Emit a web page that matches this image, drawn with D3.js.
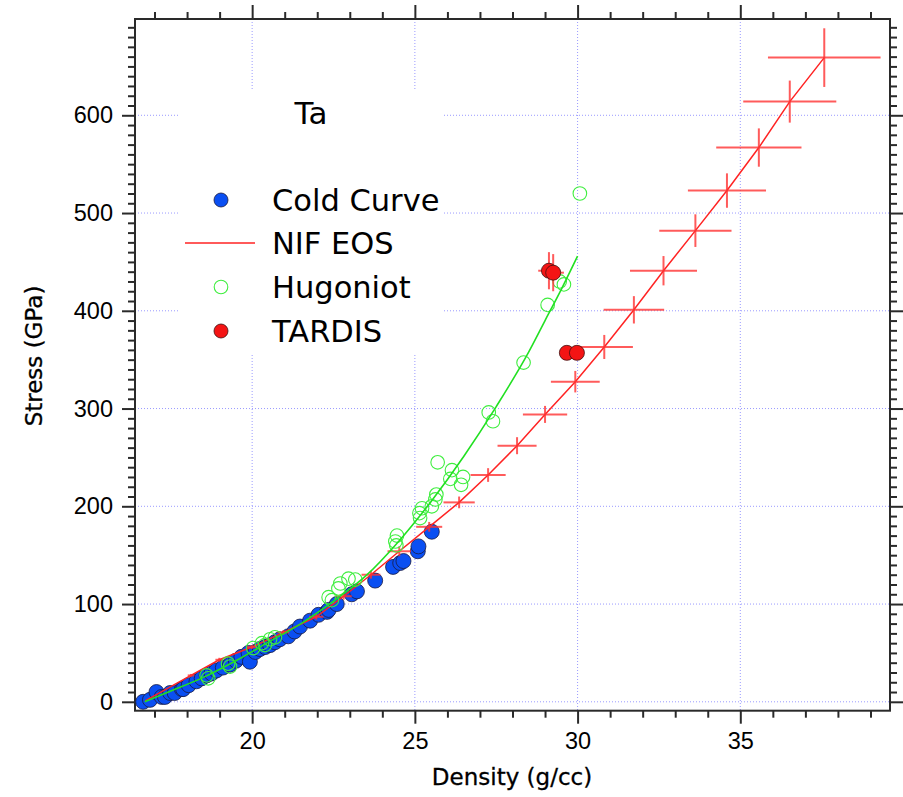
<!DOCTYPE html>
<html>
<head>
<meta charset="utf-8">
<script src="https://cdn.jsdelivr.net/npm/d3@7"></script>
<style>
  html, body { margin: 0; padding: 0; background: #fff; }
  svg { display: block; font-family: "DejaVu Sans", "Liberation Sans", sans-serif; }
</style>
</head>
<body>
<svg id="chart" width="903" height="797"></svg>
<script>
// Tantalum stress vs. density: cold curve, NIF EOS, Hugoniot and TARDIS data

const xMajorTicks = [20, 25, 30, 35];
const yMajorTicks = [0, 100, 200, 300, 400, 500, 600];

// Cold curve points (density g/cc, stress GPa)
const coldDensity = [16.65, 16.86, 17.06, 17.22, 17.32, 17.48, 17.62, 17.84, 17.88, 18.05, 18.29, 18.45, 18.60, 18.75, 18.90, 19.10, 19.32, 19.50, 19.67, 19.89, 19.93, 20.10, 20.24, 20.40, 20.55, 20.70, 20.85, 21.11, 21.30, 21.47, 21.78, 22.04, 22.30, 22.35, 22.60, 23.06, 23.22, 23.78, 24.33, 24.55, 24.65, 25.09, 25.11, 25.52];
const coldStress  = [0, 2, 10, 5, 5, 9, 9, 13, 13, 17, 21, 24, 27, 29, 32, 35, 38, 42, 46, 50, 41, 51, 54, 56, 58, 61, 64, 67, 72, 77, 83, 89, 92, 94, 100, 110, 113, 124, 138, 142, 144, 154, 159, 174];

// NIF EOS (density, stress, density error, stress error)
const nifDensity = [16.71, 18.12, 18.99, 19.99, 20.96, 21.97, 22.81, 23.65, 24.52, 25.44, 26.36, 27.25, 28.14, 29.00, 29.93, 30.82, 31.73, 32.64, 33.62, 34.59, 35.57, 36.52, 37.58];
const nifStress  = [1, 27, 43, 56, 71, 87, 108, 130, 154, 179, 204, 232, 262, 294, 327.5, 363, 401, 441, 482, 523, 567, 614, 659];
const nifDensityErr = [0, 0.10, 0.12, 0.15, 0.18, 0.22, 0.25, 0.29, 0.36, 0.40, 0.48, 0.54, 0.60, 0.68, 0.75, 0.88, 0.93, 1.03, 1.11, 1.20, 1.31, 1.43, 1.73];
const nifStressErr  = [0, 1.5, 2, 2, 2.5, 3, 3.5, 4, 5, 5, 6, 7, 8.7, 8.7, 11, 12.3, 14, 15, 16.7, 17.6, 19.6, 21.5, 30];

// Hugoniot measurements
const hugDensity = [18.60, 18.65, 19.26, 19.32, 20.03, 20.30, 20.39, 20.55, 20.70, 22.35, 22.45, 22.65, 22.71, 22.96, 23.17, 24.40, 24.45, 24.43, 25.14, 25.16, 25.22, 25.52, 25.63, 25.66, 25.70, 26.09, 26.14, 26.42, 26.48, 27.27, 27.40, 28.34, 29.08, 29.45, 29.58, 30.07];
const hugStress  = [27, 24, 39, 36, 55, 60, 58, 64, 66, 107, 104, 116, 121, 126, 125, 164, 170, 160, 193, 188, 198, 200, 207, 212, 245, 228, 237, 222, 230, 296, 287, 347, 406, 430, 427, 520];

// Hugoniot fit curve
const fitDensity = [16.70, 17.5, 18.5, 19.5, 20.5, 21.5, 22.5, 23.5, 24.5, 25.5, 26.5, 27.5, 28.5, 29.0, 29.5, 30.0];
const fitStress  = [0, 11, 25, 42, 61, 80, 103, 129, 164, 205, 251, 302, 358, 390, 422, 456];

// TARDIS points
const tardisDensity = [29.12, 29.25, 29.67, 29.98];
const tardisStress  = [441, 439, 357, 357];
const tardisDensityErr = [0.33, 0.33, 0, 0];
const tardisStressErr  = [19, 19, 0, 0];

const legendItems = ["Cold Curve", "NIF EOS", "Hugoniot", "TARDIS"];

const svg = d3.select("#chart");
const plotLeft = 135, plotRight = 890, plotTop = 19, plotBottom = 710.7;

const x = d3.scaleLinear().domain([16.4, 39.6]).range([plotLeft, plotRight]);
const y = d3.scaleLinear().domain([-9.1, 698.5]).range([plotBottom, plotTop]);

const xMinor = d3.range(17, 40).filter(v => !xMajorTicks.includes(v));
const yMinor = d3.range(10, 700, 10).filter(v => !yMajorTicks.includes(v));

const gridColor = "#9a9aff";
const axisColor = "#2a2a2a";

// Grid
const grid = svg.append("g");
grid.selectAll("line.vx").data(xMajorTicks).join("line")
  .attr("x1", d => x(d)).attr("x2", d => x(d))
  .attr("y1", plotTop).attr("y2", plotBottom)
  .attr("stroke", gridColor).attr("stroke-width", 1).attr("stroke-dasharray", "1,2");
grid.selectAll("line.hy").data(yMajorTicks).join("line")
  .attr("x1", plotLeft).attr("x2", plotRight)
  .attr("y1", d => y(d)).attr("y2", d => y(d))
  .attr("stroke", gridColor).attr("stroke-width", 1).attr("stroke-dasharray", "1,2");

// Legend backing
svg.append("rect").attr("x", 178).attr("y", 89).attr("width", 265).attr("height", 264).attr("fill", "#fff");

// Axes with major and minor ticks
function styleAxis(g) {
  g.select(".domain").remove();
  g.selectAll(".tick line").attr("stroke", axisColor).attr("stroke-width", 2);
  g.selectAll(".tick text").attr("fill", "#000").style("font-size", "23.5px");
}
function addAxis(axis, tx, ty) {
  const g = svg.append("g").attr("transform", `translate(${tx},${ty})`).call(axis);
  styleAxis(g);
  return g;
}
addAxis(d3.axisBottom(x).tickValues(xMajorTicks).tickSize(13).tickPadding(9).tickFormat(d3.format("d")), 0, plotBottom);
addAxis(d3.axisBottom(x).tickValues(xMinor).tickSize(7).tickFormat(""), 0, plotBottom);
addAxis(d3.axisTop(x).tickValues(xMajorTicks).tickSize(14).tickFormat(""), 0, plotTop);
addAxis(d3.axisTop(x).tickValues(xMinor).tickSize(7).tickFormat(""), 0, plotTop);
addAxis(d3.axisLeft(y).tickValues(yMajorTicks).tickSize(13).tickPadding(9).tickFormat(d3.format("d")), plotLeft, 0);
addAxis(d3.axisLeft(y).tickValues(yMinor).tickSize(7).tickFormat(""), plotLeft, 0);
addAxis(d3.axisRight(y).tickValues(yMajorTicks).tickSize(13).tickFormat(""), plotRight, 0);
addAxis(d3.axisRight(y).tickValues(yMinor).tickSize(7).tickFormat(""), plotRight, 0);

// Frame
svg.append("rect").attr("x", plotLeft).attr("y", plotTop)
  .attr("width", plotRight - plotLeft).attr("height", plotBottom - plotTop)
  .attr("fill", "none").attr("stroke", axisColor).attr("stroke-width", 2);

// Axis titles
svg.append("text").attr("x", 512).attr("y", 785).attr("text-anchor", "middle")
  .style("font-size", "23px").attr("fill", "#000").attr("stroke", "#000").attr("stroke-width", 0.3)
  .text("Density (g/cc)");
svg.append("text").attr("transform", `translate(42,356) rotate(-90)`).attr("text-anchor", "middle")
  .style("font-size", "23px").attr("fill", "#000").attr("stroke", "#000").attr("stroke-width", 0.3)
  .text("Stress (GPa)");

const plot = svg.append("g");

const blueFill = "#0a4ff2";
const redFill = "#f41414";
const greenStroke = "#3fee3f";
const nifColor = "#ff2323";
const crossColor = "rgba(255,50,50,0.8)";

// Cold curve markers
plot.selectAll("circle.cold").data(d3.range(coldDensity.length)).join("circle")
  .attr("cx", i => x(coldDensity[i])).attr("cy", i => y(coldStress[i])).attr("r", 7.5)
  .attr("fill", blueFill).attr("stroke", "#1a1a40").attr("stroke-width", 0.8);

// NIF EOS line with error crosses
const nifIdx = d3.range(nifDensity.length);
plot.append("path").datum(nifIdx)
  .attr("d", d3.line().x(i => x(nifDensity[i])).y(i => y(nifStress[i])))
  .attr("fill", "none").attr("stroke", nifColor).attr("stroke-width", 1.5);
plot.selectAll("line.nifx").data(nifIdx.filter(i => nifDensityErr[i] > 0)).join("line")
  .attr("x1", i => x(nifDensity[i] - nifDensityErr[i])).attr("x2", i => x(nifDensity[i] + nifDensityErr[i]))
  .attr("y1", i => y(nifStress[i])).attr("y2", i => y(nifStress[i]))
  .attr("stroke", crossColor).attr("stroke-width", 2);
plot.selectAll("line.nify").data(nifIdx.filter(i => nifStressErr[i] > 0)).join("line")
  .attr("x1", i => x(nifDensity[i])).attr("x2", i => x(nifDensity[i]))
  .attr("y1", i => y(nifStress[i] - nifStressErr[i])).attr("y2", i => y(nifStress[i] + nifStressErr[i]))
  .attr("stroke", crossColor).attr("stroke-width", 2);

// Hugoniot markers
plot.selectAll("circle.hug").data(d3.range(hugDensity.length)).join("circle")
  .attr("cx", i => x(hugDensity[i])).attr("cy", i => y(hugStress[i])).attr("r", 6.8)
  .attr("fill", "none").attr("stroke", greenStroke).attr("stroke-width", 1.1);

// Hugoniot fit
plot.append("path").datum(d3.range(fitDensity.length))
  .attr("d", d3.line().curve(d3.curveMonotoneX).x(i => x(fitDensity[i])).y(i => y(fitStress[i])))
  .attr("fill", "none").attr("stroke", "#22e022").attr("stroke-width", 1.6);

// TARDIS
const tIdx = d3.range(tardisDensity.length);
plot.selectAll("line.tx").data(tIdx.filter(i => tardisDensityErr[i] > 0)).join("line")
  .attr("x1", i => x(tardisDensity[i] - tardisDensityErr[i])).attr("x2", i => x(tardisDensity[i] + tardisDensityErr[i]))
  .attr("y1", i => y(tardisStress[i])).attr("y2", i => y(tardisStress[i]))
  .attr("stroke", crossColor).attr("stroke-width", 2);
plot.selectAll("line.ty").data(tIdx.filter(i => tardisStressErr[i] > 0)).join("line")
  .attr("x1", i => x(tardisDensity[i])).attr("x2", i => x(tardisDensity[i]))
  .attr("y1", i => y(tardisStress[i] - tardisStressErr[i])).attr("y2", i => y(tardisStress[i] + tardisStressErr[i]))
  .attr("stroke", crossColor).attr("stroke-width", 2);
plot.selectAll("circle.tardis").data(tIdx).join("circle")
  .attr("cx", i => x(tardisDensity[i])).attr("cy", i => y(tardisStress[i])).attr("r", 7.5)
  .attr("fill", redFill).attr("stroke", "#401010").attr("stroke-width", 0.8);

// Legend
const legend = svg.append("g");
legend.append("text").attr("x", 311).attr("y", 124).attr("text-anchor", "middle")
  .style("font-size", "31px").attr("fill", "#000").text("Ta");
const rowY = [200, 243, 287, 331];
legendItems.forEach((name, i) => {
  legend.append("text").attr("x", 272).attr("y", rowY[i] + 11)
    .style("font-size", "30.5px").attr("fill", "#000").text(name);
});
legend.append("circle").attr("cx", 221).attr("cy", rowY[0]).attr("r", 7)
  .attr("fill", blueFill).attr("stroke", "#1a1a40").attr("stroke-width", 0.8);
legend.append("line").attr("x1", 185).attr("x2", 255).attr("y1", rowY[1]).attr("y2", rowY[1])
  .attr("stroke", nifColor).attr("stroke-width", 1.5);
legend.append("circle").attr("cx", 221).attr("cy", rowY[2]).attr("r", 6.8)
  .attr("fill", "none").attr("stroke", greenStroke).attr("stroke-width", 1.1);
legend.append("circle").attr("cx", 221).attr("cy", rowY[3]).attr("r", 7)
  .attr("fill", redFill).attr("stroke", "#401010").attr("stroke-width", 0.8);
</script>
</body>
</html>
